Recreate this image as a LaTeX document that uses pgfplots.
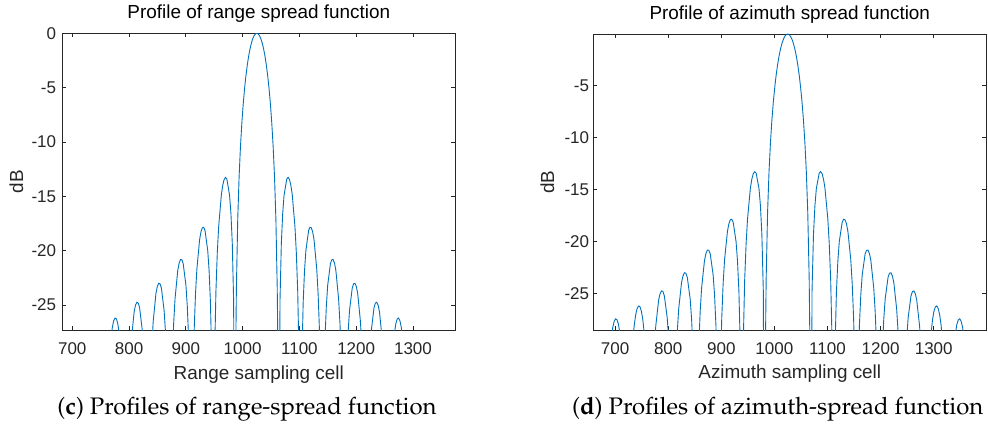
\documentclass[border=0pt]{standalone}
\usepackage[T1]{fontenc}
\usepackage{fontspec}
\setmainfont{Liberation Sans}
\usepackage{pgfplots}
\pgfplotsset{compat=1.18}
\definecolor{mblue}{RGB}{0,114,189}
\definecolor{axgray}{RGB}{38,38,38}
\newcommand\capfont{\fontencoding{T1}\fontfamily{ppl}\fontsize{23.9}{28}\selectfont}
\pgfplotsset{msty/.style={
  scale only axis, width=393pt,
  axis line style={axgray, line width=0.8pt},
  every tick/.style={axgray, line width=0.8pt},
  tick align=inside, tick pos=both, major tick length=4pt,
  xtick={700,800,...,1300},
  tick label style={font=\fontsize{17}{17}\selectfont, text=axgray},
  /pgf/number format/assume math mode=true,
  /pgf/number format/1000 sep={},
  xticklabel style={anchor=base, yshift=-24pt},
  yticklabel style={anchor=east, inner sep=0pt},
  label style={font=\fontsize{18.9}{20}\selectfont, text=axgray},
  title style={font=\fontsize{18.9}{20}\selectfont, text=black, at={(0.5,1.028)}, anchor=base},
  ylabel style={rotate=0, anchor=center},
  ylabel={dB},
}}
\begin{document}
\begin{tikzpicture}[x=1pt,y=1pt]
\useasboundingbox (0,0) rectangle (988,426);
\begin{axis}[msty, at={(62.3pt,95.7pt)}, anchor=south west, height=297pt,
  xmin=682.5, xmax=1374.5, ymin=-27.33, ymax=0, ytick={-25,-20,...,0},
  yticklabel style={xshift=-6pt},
  title={Profile of range spread function},
  xlabel={Range sampling cell},
  xlabel style={at={(axis description cs:0.5,-0.167)}, anchor=base},
  ylabel style={at={(axis description cs:-0.117,0.5)}},
]
\addplot[mblue, line width=0.9pt] coordinates {
(756.2,-60) (758.6,-40.962) (761.0,-35.032) (763.4,-31.714) (765.8,-29.539) (768.2,-28.051) (770.6,-27.055) (773.0,-26.453) (775.4,-26.201) (777.8,-26.286) (780.2,-26.721) (782.6,-27.550) (785.0,-28.871) (787.4,-30.878) (789.8,-34.028) (792.2,-39.791)
(794.6,-60) (797.0,-39.610) (799.4,-33.666) (801.8,-30.335) (804.2,-28.146) (809.0,-25.634) (811.4,-25.017) (813.8,-24.750) (816.2,-24.820) (818.6,-25.239) (823.4,-27.356) (825.8,-29.347) (828.2,-32.480) (830.6,-38.225)
(833.0,-60) (835.4,-38.008) (837.8,-32.046) (840.2,-28.695) (842.6,-26.487) (847.4,-23.933) (849.8,-23.296) (852.2,-23.007) (854.6,-23.055) (857.0,-23.451) (861.8,-25.521) (864.2,-27.487) (866.6,-30.595) (869.0,-36.314)
(871.4,-60) (873.8,-36.042) (876.2,-30.051) (878.6,-26.672) (881.0,-24.434) (885.8,-21.817) (888.2,-21.147) (890.6,-20.824) (893.0,-20.837) (895.4,-21.197) (900.2,-23.191) (902.6,-25.117) (905.0,-28.183) (907.4,-33.860)
(909.8,-60) (912.2,-33.498) (914.6,-27.459) (917.0,-24.030) (919.4,-21.740) (924.2,-19.014) (926.6,-18.285) (929.0,-17.902) (931.4,-17.851) (933.8,-18.144) (938.6,-19.997) (941.0,-21.847) (943.4,-24.833) (945.8,-30.426)
(948.2,-60) (950.6,-29.883) (953.0,-23.746) (955.4,-20.214) (957.8,-17.814) (962.6,-14.848) (965.0,-13.988) (967.4,-13.465) (969.8,-13.264) (972.2,-13.397) (977.0,-14.891) (979.4,-16.541) (981.8,-19.309) (984.2,-24.665)
(986.6,-60) (987.8,-29.84) (989.0,-23.578) (991.4,-17.127) (993.8,-13.245) (996.2,-10.454) (998.6,-8.291) (1001.0,-6.548) (1003.4,-5.114) (1005.8,-3.922) (1008.2,-2.931) (1010.6,-2.111) (1013.0,-1.443) (1015.4,-0.912) (1017.8,-0.508) (1020.2,-0.224) (1022.6,-0.056)
(1025,0)
(1027.4,-0.056) (1029.8,-0.224) (1032.2,-0.508) (1034.6,-0.912) (1037.0,-1.443) (1039.4,-2.111) (1041.8,-2.931) (1044.2,-3.922) (1046.6,-5.114) (1049.0,-6.548) (1051.4,-8.291) (1053.8,-10.454) (1056.2,-13.245) (1058.6,-17.127) (1061.0,-23.578) (1062.2,-29.84) (1063.4,-60)
(1065.8,-24.665) (1068.2,-19.309) (1070.6,-16.541) (1073.0,-14.891) (1077.8,-13.397) (1080.2,-13.264) (1082.6,-13.465) (1085.0,-13.988) (1087.4,-14.848) (1092.2,-17.814) (1094.6,-20.214) (1097.0,-23.746) (1099.4,-29.883) (1101.8,-60)
(1104.2,-30.426) (1106.6,-24.833) (1109.0,-21.847) (1111.4,-19.997) (1116.2,-18.144) (1118.6,-17.851) (1121.0,-17.902) (1123.4,-18.285) (1125.8,-19.014) (1130.6,-21.740) (1133.0,-24.030) (1135.4,-27.459) (1137.8,-33.498) (1140.2,-60)
(1142.6,-33.860) (1145.0,-28.183) (1147.4,-25.117) (1149.8,-23.191) (1154.6,-21.197) (1157.0,-20.837) (1159.4,-20.824) (1161.8,-21.147) (1164.2,-21.817) (1169.0,-24.434) (1171.4,-26.672) (1173.8,-30.051) (1176.2,-36.042) (1178.6,-60)
(1181.0,-36.314) (1183.4,-30.595) (1185.8,-27.487) (1188.2,-25.521) (1193.0,-23.451) (1195.4,-23.055) (1197.8,-23.007) (1200.2,-23.296) (1202.6,-23.933) (1207.4,-26.487) (1209.8,-28.695) (1212.2,-32.046) (1214.6,-38.008) (1217.0,-60)
(1219.4,-38.225) (1221.8,-32.480) (1224.2,-29.347) (1226.6,-27.356) (1231.4,-25.239) (1233.8,-24.820) (1236.2,-24.750) (1238.6,-25.017) (1241.0,-25.634) (1245.8,-28.146) (1248.2,-30.335) (1250.6,-33.666) (1253.0,-39.610) (1255.4,-60)
(1257.8,-39.791) (1260.2,-34.028) (1262.6,-30.878) (1265.0,-28.871) (1267.4,-27.550) (1269.8,-26.721) (1272.2,-26.286) (1274.6,-26.201) (1277.0,-26.453) (1279.4,-27.055) (1281.8,-28.051) (1284.2,-29.539) (1286.6,-31.714) (1289.0,-35.032) (1291.4,-40.962) (1293.8,-60)
};
\end{axis}
\begin{axis}[msty, at={(593.3pt,95.7pt)}, anchor=south west, height=296.3pt,
  xmin=659, xmax=1399, ymin=-28.55, ymax=0, ytick={-25,-20,...,-5},
  yticklabel style={xshift=-4pt},
  title={Profile of azimuth spread function},
  xlabel={Azimuth sampling cell},
  xlabel style={at={(axis description cs:0.5,-0.164)}, anchor=base},
  ylabel style={at={(axis description cs:-0.117,0.5)}},
]
\addplot[mblue, line width=0.9pt] coordinates {
(679.4,-60) (682.1,-42.132) (684.8,-36.211) (687.5,-32.904) (690.2,-30.739) (692.9,-29.262) (695.6,-28.276) (698.3,-27.685) (701.0,-27.444) (703.7,-27.541) (706.4,-27.986) (709.1,-28.827) (711.8,-30.160) (714.5,-32.180) (717.2,-35.342) (719.9,-41.117)
(722.6,-60) (725.3,-40.962) (728.0,-35.032) (730.7,-31.714) (733.4,-29.539) (736.1,-28.051) (738.8,-27.055) (741.5,-26.453) (744.2,-26.201) (746.9,-26.286) (749.6,-26.721) (752.3,-27.550) (755.0,-28.871) (757.7,-30.878) (760.4,-34.028) (763.1,-39.791)
(765.8,-60) (768.5,-39.610) (771.2,-33.666) (773.9,-30.335) (776.6,-28.146) (782.0,-25.634) (784.7,-25.017) (787.4,-24.750) (790.1,-24.820) (792.8,-25.239) (798.2,-27.356) (800.9,-29.347) (803.6,-32.480) (806.3,-38.225)
(809.0,-60) (811.7,-38.008) (814.4,-32.046) (817.1,-28.695) (819.8,-26.487) (825.2,-23.933) (827.9,-23.296) (830.6,-23.007) (833.3,-23.055) (836.0,-23.451) (841.4,-25.521) (844.1,-27.487) (846.8,-30.595) (849.5,-36.314)
(852.2,-60) (854.9,-36.042) (857.6,-30.051) (860.3,-26.672) (863.0,-24.434) (868.4,-21.817) (871.1,-21.147) (873.8,-20.824) (876.5,-20.837) (879.2,-21.197) (884.6,-23.191) (887.3,-25.117) (890.0,-28.183) (892.7,-33.860)
(895.4,-60) (898.1,-33.498) (900.8,-27.459) (903.5,-24.030) (906.2,-21.740) (911.6,-19.014) (914.3,-18.285) (917.0,-17.902) (919.7,-17.851) (922.4,-18.144) (927.8,-19.997) (930.5,-21.847) (933.2,-24.833) (935.9,-30.426)
(938.6,-60) (941.3,-29.883) (944.0,-23.746) (946.7,-20.214) (949.4,-17.814) (954.8,-14.848) (957.5,-13.988) (960.2,-13.465) (962.9,-13.264) (965.6,-13.397) (971.0,-14.891) (973.7,-16.541) (976.4,-19.309) (979.1,-24.665)
(981.8,-60) (983.15,-29.84) (984.5,-23.578) (987.2,-17.127) (989.9,-13.245) (992.6,-10.454) (995.3,-8.291) (998.0,-6.548) (1000.7,-5.114) (1003.4,-3.922) (1006.1,-2.931) (1008.8,-2.111) (1011.5,-1.443) (1014.2,-0.912) (1016.9,-0.508) (1019.6,-0.224) (1022.3,-0.056)
(1025,0)
(1027.7,-0.056) (1030.4,-0.224) (1033.1,-0.508) (1035.8,-0.912) (1038.5,-1.443) (1041.2,-2.111) (1043.9,-2.931) (1046.6,-3.922) (1049.3,-5.114) (1052.0,-6.548) (1054.7,-8.291) (1057.4,-10.454) (1060.1,-13.245) (1062.8,-17.127) (1065.5,-23.578) (1066.85,-29.84) (1068.2,-60)
(1070.9,-24.665) (1073.6,-19.309) (1076.3,-16.541) (1079.0,-14.891) (1084.4,-13.397) (1087.1,-13.264) (1089.8,-13.465) (1092.5,-13.988) (1095.2,-14.848) (1100.6,-17.814) (1103.3,-20.214) (1106.0,-23.746) (1108.7,-29.883) (1111.4,-60)
(1114.1,-30.426) (1116.8,-24.833) (1119.5,-21.847) (1122.2,-19.997) (1127.6,-18.144) (1130.3,-17.851) (1133.0,-17.902) (1135.7,-18.285) (1138.4,-19.014) (1143.8,-21.740) (1146.5,-24.030) (1149.2,-27.459) (1151.9,-33.498) (1154.6,-60)
(1157.3,-33.860) (1160.0,-28.183) (1162.7,-25.117) (1165.4,-23.191) (1170.8,-21.197) (1173.5,-20.837) (1176.2,-20.824) (1178.9,-21.147) (1181.6,-21.817) (1187.0,-24.434) (1189.7,-26.672) (1192.4,-30.051) (1195.1,-36.042) (1197.8,-60)
(1200.5,-36.314) (1203.2,-30.595) (1205.9,-27.487) (1208.6,-25.521) (1214.0,-23.451) (1216.7,-23.055) (1219.4,-23.007) (1222.1,-23.296) (1224.8,-23.933) (1230.2,-26.487) (1232.9,-28.695) (1235.6,-32.046) (1238.3,-38.008) (1241.0,-60)
(1243.7,-38.225) (1246.4,-32.480) (1249.1,-29.347) (1251.8,-27.356) (1257.2,-25.239) (1259.9,-24.820) (1262.6,-24.750) (1265.3,-25.017) (1268.0,-25.634) (1273.4,-28.146) (1276.1,-30.335) (1278.8,-33.666) (1281.5,-39.610) (1284.2,-60)
(1286.9,-39.791) (1289.6,-34.028) (1292.3,-30.878) (1295.0,-28.871) (1297.7,-27.550) (1300.4,-26.721) (1303.1,-26.286) (1305.8,-26.201) (1308.5,-26.453) (1311.2,-27.055) (1313.9,-28.051) (1316.6,-29.539) (1319.3,-31.714) (1322.0,-35.032) (1324.7,-40.962) (1327.4,-60)
(1330.1,-41.117) (1332.8,-35.342) (1335.5,-32.180) (1338.2,-30.160) (1340.9,-28.827) (1343.6,-27.986) (1346.3,-27.541) (1349.0,-27.444) (1351.7,-27.685) (1354.4,-28.276) (1357.1,-29.262) (1359.8,-30.739) (1362.5,-32.904) (1365.2,-36.211) (1367.9,-42.132) (1370.6,-60)
};
\end{axis}
\node[anchor=base] at (247,12) {\capfont (\textbf{c}) Profiles of range-spread function};
\node[anchor=base] at (777.7,12) {\capfont (\textbf{d}) Profiles of azimuth-spread function};
\end{tikzpicture}
\end{document}
